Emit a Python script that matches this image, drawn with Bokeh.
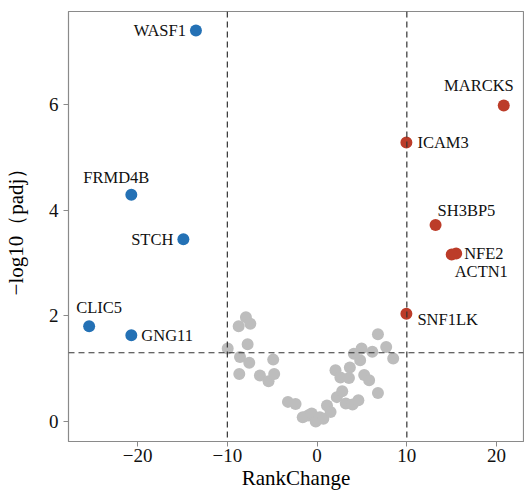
from bokeh.plotting import figure
from bokeh.models import Span, Range1d, FixedTicker, CustomJSTickFormatter, ColumnDataSource
from bokeh.core.properties import value
from bokeh.embed import file_html
from bokeh.resources import INLINE

# ---- data ----
blue_genes = ["WASF1", "FRMD4B", "STCH", "CLIC5", "GNG11"]
blue_x = [-13.5, -20.7, -14.9, -25.4, -20.7]
blue_y = [7.40, 4.29, 3.45, 1.80, 1.63]

red_genes = ["MARCKS", "ICAM3", "SH3BP5", "NFE2", "ACTN1", "SNF1LK"]
red_x = [20.8, 9.95, 13.2, 15.5, 15.0, 9.95]
red_y = [5.98, 5.28, 3.72, 3.18, 3.16, 2.04]

gray_x = [-9.96, -8.74, -7.93, -7.44, -7.74, -8.59, -7.56, -8.67, -6.37, -5.41,
          -4.89, -4.78, -3.25, -2.40, -1.60, -1.00, -0.60, -0.15, 0.30, 0.70,
          1.10, 1.50, 2.05, 2.60, 2.20, 2.80, 3.20, 3.65, 3.55, 3.95,
          4.60, 4.10, 4.96, 4.80, 5.25, 5.80, 6.15, 6.78, 6.78, 7.70, 8.48]
gray_y = [1.38, 1.80, 1.97, 1.85, 1.46, 1.22, 1.11, 0.90, 0.87, 0.76,
          1.17, 0.90, 0.37, 0.33, 0.08, 0.11, 0.15, 0.00, 0.08, 0.05,
          0.30, 0.18, 0.97, 0.83, 0.46, 0.57, 0.34, 1.02, 0.82, 0.32,
          0.40, 1.28, 1.38, 1.16, 0.88, 0.78, 1.32, 1.65, 0.54, 1.41, 1.19]

x_ticks = [-20, -10, 0, 10, 20]
y_ticks = [0, 2, 4, 6]
fc_cut = 10
p_cut = 1.30

# label styling (per gene, in order blue then red)
lab_align = ["right", "center", "right", "left", "left",
             "right", "left", "left", "left", "left", "left"]
lab_base = ["middle", "bottom", "middle", "bottom", "middle",
            "bottom", "middle", "bottom", "middle", "top", "middle"]
lab_xo = [-10, -15, -10, -13, 10, 10, 11, 2, 8, 3, 11]
lab_yo = [0, -8, 0, -9, 0, -11, 0, -5, 0, 8, 6]

FONT = "Liberation Serif"
BLUE = "#2471b5"
RED = "#bc3c29"
GRAY = "#bdbdbd"

p = figure(width=524, height=492, output_backend="svg", toolbar_location=None,
           x_range=Range1d(-27.7, 23.0), y_range=Range1d(-0.38, 7.76),
           min_border_left=68, min_border_right=1, min_border_top=11,
           min_border_bottom=48)

p.xgrid.visible = False
p.ygrid.visible = False
p.outline_line_color = "#8a8a8a"
p.outline_line_width = 1.2

fmt = CustomJSTickFormatter(code="return String(tick).replace('-', '\\u2212');")
for ax, ticks in ((p.xaxis[0], x_ticks), (p.yaxis[0], y_ticks)):
    ax.ticker = FixedTicker(ticks=ticks)
    ax.formatter = fmt
    ax.axis_line_color = "#8a8a8a"
    ax.major_tick_line_color = "#8a8a8a"
    ax.major_tick_out = 5
    ax.major_tick_in = 0
    ax.minor_tick_line_color = None
    ax.major_label_text_font = FONT
    ax.major_label_text_font_size = "19px"
    ax.major_label_text_color = "#111111"
    ax.axis_label_text_font = FONT
    ax.axis_label_text_font_size = "21px"
    ax.axis_label_text_font_style = "normal"
    ax.axis_label_text_color = "#000000"

p.xaxis.axis_label = "RankChange"
p.yaxis.axis_label = "\u2212log10\uff08padj\uff09"
p.xaxis.major_label_standoff = 2
p.xaxis.axis_label_standoff = 1
p.yaxis.major_label_standoff = 5
p.yaxis.axis_label_standoff = 18

p.scatter(gray_x, gray_y, size=12, color=GRAY, line_color=None)
p.scatter(blue_x, blue_y, size=12, color=BLUE, line_color=None)
p.scatter(red_x, red_y, size=12, color=RED, line_color=None)

for loc, dim in ((-fc_cut, "height"), (fc_cut, "height"), (p_cut, "width")):
    p.add_layout(Span(location=loc, dimension=dim, line_color="#333333",
                      line_width=1.2, line_dash="6 4"))

src = ColumnDataSource(dict(
    x=blue_x + red_x, y=blue_y + red_y, t=blue_genes + red_genes,
    a=lab_align, b=lab_base, xo=lab_xo, yo=lab_yo))
p.text(x="x", y="y", text="t", source=src, text_align="a", text_baseline="b",
       x_offset="xo", y_offset="yo", text_font=value(FONT),
       text_font_size="16.5px", text_color="#111111")

open("out.html", "w").write(file_html(p, INLINE))
